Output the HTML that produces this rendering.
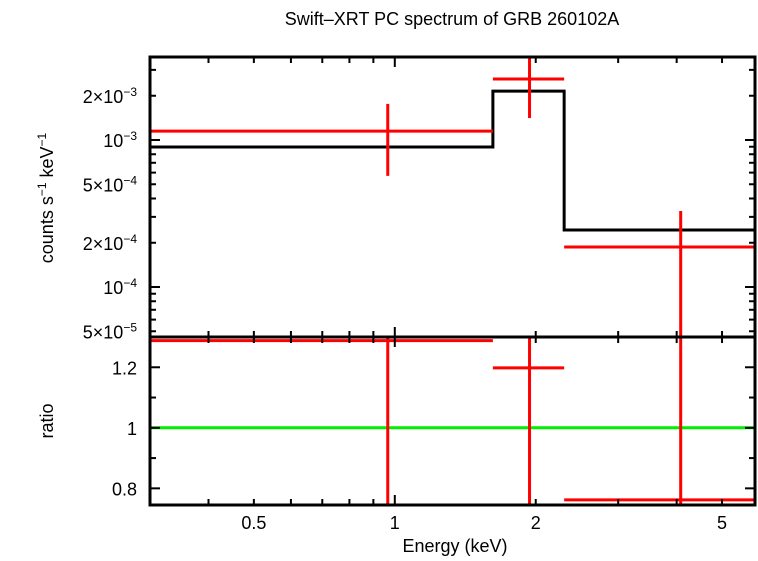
<!DOCTYPE html>
<html><head><meta charset="utf-8"><style>
html,body{margin:0;padding:0;background:#fff;}
svg text{font-family:"Liberation Sans",sans-serif;fill:#000;}
</style></head><body>
<svg id="c" width="758" height="556" xmlns="http://www.w3.org/2000/svg">
<text x="452" y="25" font-size="18" text-anchor="middle">Swift–XRT PC spectrum of GRB 260102A</text>
<text transform="translate(53,198) rotate(-90)" font-size="18" text-anchor="middle">counts s<tspan font-size="12" dy="-7">−1</tspan><tspan dy="7"> keV</tspan><tspan font-size="12" dy="-7">−1</tspan></text>
<text transform="translate(53,421) rotate(-90)" font-size="18" text-anchor="middle">ratio</text>
<text x="455" y="552" font-size="18" text-anchor="middle">Energy (keV)</text>
<g id="g"></g>
</svg>
<script>
const binLo=[0.3,1.62,2.30];
const binHi=[1.62,2.30,5.88];
const binCenter=[0.966,1.94,4.08];
const modelVals=[8.97e-4,2.15e-3,2.44e-4];
const dataVals=[1.15e-3,2.6e-3,1.87e-4];
const dataErrLo=[5.7e-4,1.41e-3,1e-6];
const dataErrHi=[1.76e-3,3.9e-3,3.29e-4];
const ratioVals=[1.288,1.198,0.762];
const ratioErrLo=[0.5,0.5,0.5];
const ratioErrHi=[1.5,1.5,1.5];
const xTickLabels=[0.5,1,2,5];
const yTopLabels=[[2e-3,"2×10","−3"],[1e-3,"10","−3"],[5e-4,"5×10","−4"],[2e-4,"2×10","−4"],[1e-4,"10","−4"],[5e-5,"5×10","−5"]];
const yRatioLabels=[1.2,1,0.8];

const L=150,R=755,T=57,M=337,B=505;
const xmin=0.3,xmax=5.88,ymin=4.57e-5,ymax=3.67e-3,rmin=0.745,rmax=1.30;
const X=v=>L+(Math.log10(v)-Math.log10(xmin))/(Math.log10(xmax)-Math.log10(xmin))*(R-L);
const Y=v=>M-(Math.log10(Math.max(v,1e-9))-Math.log10(ymin))/(Math.log10(ymax)-Math.log10(ymin))*(M-T);
const YR=v=>B-(v-rmin)/(rmax-rmin)*(B-M);
const cy=v=>Math.min(M,Math.max(T,v));
const cr=v=>Math.min(B,Math.max(M,v));
const g=document.getElementById('g');
const NS='http://www.w3.org/2000/svg';
function ln(x1,y1,x2,y2,c,w,name){const e=document.createElementNS(NS,'line');
e.setAttribute('x1',x1);e.setAttribute('y1',y1);e.setAttribute('x2',x2);e.setAttribute('y2',y2);
e.setAttribute('stroke',c);e.setAttribute('stroke-width',w);


g.appendChild(e);return e;}
function tx(x,y,s,anchor,name){const e=document.createElementNS(NS,'text');
e.setAttribute('x',x);e.setAttribute('y',y);e.setAttribute('font-size','18');e.setAttribute('text-anchor',anchor);
e.textContent=s;


g.appendChild(e);return e;}
let p='';
for(let i=0;i<binLo.length;i++){const y=Y(modelVals[i]);p+=(i?'L':'M')+X(binLo[i])+' '+y+' L'+X(binHi[i])+' '+y+' ';}
const mp=document.createElementNS(NS,'path');mp.setAttribute('d',p);mp.setAttribute('fill','none');mp.setAttribute('stroke','#000');mp.setAttribute('stroke-width','3');


g.appendChild(mp);
ln(L,YR(1),R,YR(1),'#00ee00',3,'ratio-unity-line');
for(let i=0;i<binLo.length;i++){
 ln(X(binLo[i]),cy(Y(dataVals[i])),Math.min(R,X(binHi[i])),cy(Y(dataVals[i])),'#f00',3,'data-bin-'+i);
 ln(X(binCenter[i]),cy(Y(dataErrHi[i])),X(binCenter[i]),cy(Y(dataErrLo[i])),'#f00',3,'data-error-'+i);
 ln(X(binLo[i]),cr(YR(ratioVals[i])),Math.min(R,X(binHi[i])),cr(YR(ratioVals[i])),'#f00',3,'ratio-bin-'+i);
 ln(X(binCenter[i]),cr(YR(ratioErrHi[i])),X(binCenter[i]),cr(YR(ratioErrLo[i])),'#f00',3,'ratio-error-'+i);
}
[[T,M,'top-panel-frame'],[M,B,'bottom-panel-frame']].forEach(([a,b,n])=>{const r=document.createElementNS(NS,'rect');
r.setAttribute('x',L);r.setAttribute('y',a);r.setAttribute('width',R-L);r.setAttribute('height',b-a);
r.setAttribute('fill','none');r.setAttribute('stroke','#000');r.setAttribute('stroke-width','3');


g.appendChild(r);});
const xt=[0.3,0.4,0.5,0.6,0.7,0.8,0.9,1,2,3,4,5];
xt.forEach(v=>{const x=X(v);if(x<L||x>R)return;const len=(v===1)?10:6;
 [[T,1],[M,-1],[M,1],[B,-1]].forEach(([y,d])=>ln(x,y,x,y+d*len,'#000',2,'x-tick'));});
xTickLabels.forEach(v=>tx(X(v),529,String(v),'middle','x-tick-label'));
for(let e=-5;e<=-3;e++)for(let m=1;m<10;m++){const v=m*Math.pow(10,e);const y=Y(v);if(y<T||y>M)continue;const len=m===1?10:6;
 ln(L,y,L+len,y,'#000',2,'y-tick');ln(R,y,R-len,y,'#000',2,'y-tick');}
yTopLabels.forEach(([v,a,b])=>{const t=tx(137,Y(v)+7,'','end','y-tick-label');
 t.innerHTML=a+'<tspan font-size="12" dy="-7">'+b+'</tspan>';});
[0.8,0.9,1,1.1,1.2].forEach(v=>{const y=YR(v);const len=(v===0.8||v===1||v===1.2)?10:6;
 ln(L,y,L+len,y,'#000',2,'ratio-tick');ln(R,y,R-len,y,'#000',2,'ratio-tick');});
yRatioLabels.forEach(v=>tx(137,YR(v)+7,String(v),'end','ratio-tick-label'));
</script>
</body></html>
